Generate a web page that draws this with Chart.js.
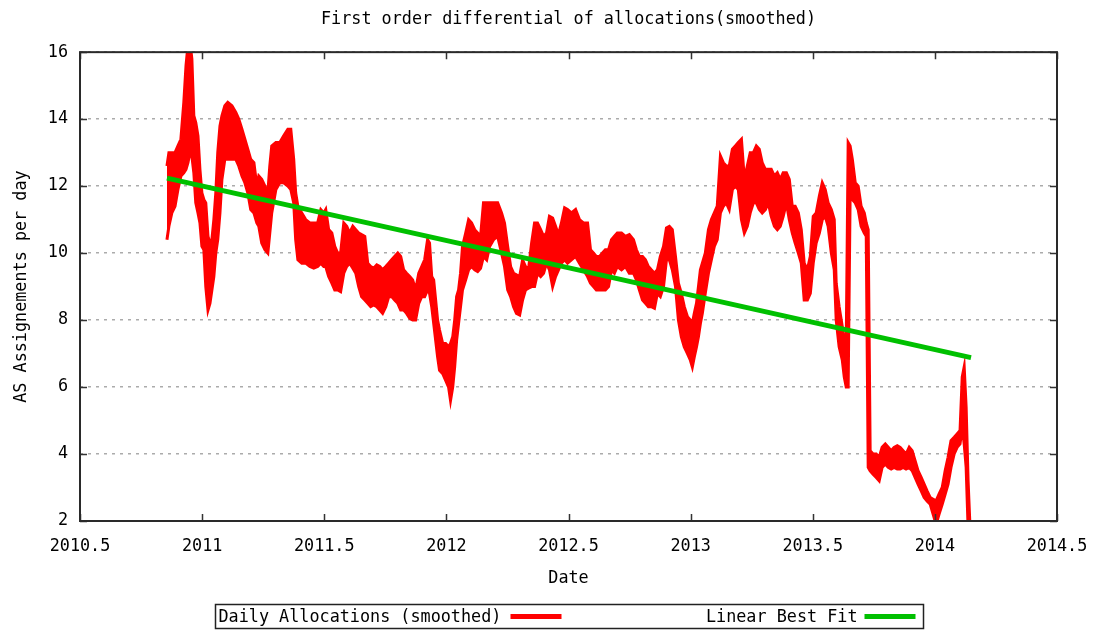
<!DOCTYPE html>
<html>
<head>
<meta charset="utf-8">
<script src="https://cdn.jsdelivr.net/npm/chart.js@4.4.0/dist/chart.umd.min.js"></script>
<style>
html,body{margin:0;padding:0;background:#fff;}
#wrap{width:1093px;height:630px;position:relative;}
</style>
</head>
<body>
<div id="wrap"><canvas id="c"></canvas></div>
<script>
const chartTitle = 'First order differential of allocations(smoothed)';
const xAxisTitle = 'Date';
const yAxisTitle = 'AS Assignements per day';
const seriesNames = ['Daily Allocations (smoothed)', 'Linear Best Fit'];
const xTickLabels = ['2010.5','2011','2011.5','2012','2012.5','2013','2013.5','2014','2014.5'];
const yTickLabels = ['2','4','6','8','10','12','14','16'];

// sample dates (decimal years) of the smoothed daily allocation band
const sampleYears = [
  2010.856,2010.864,2010.876,2010.889,2010.901,2010.913,2010.925,2010.934,2010.942,2010.950,
  2010.958,2010.966,2010.974,2010.983,2010.991,2010.999,2011.007,2011.015,2011.024,2011.032,
  2011.040,2011.048,2011.056,2011.064,2011.073,2011.081,2011.093,2011.105,2011.122,2011.138,
  2011.150,2011.163,2011.175,2011.187,2011.199,2011.212,2011.224,2011.232,2011.244,2011.257,
  2011.269,2011.277,2011.285,2011.302,2011.318,2011.334,2011.351,2011.363,2011.375,2011.383,
  2011.392,2011.408,2011.424,2011.441,2011.457,2011.473,2011.486,2011.498,
  2011.506,2011.518,2011.531,2011.543,2011.555,2011.567,2011.580,2011.592,2011.604,2011.617,
  2011.629,2011.641,2011.653,2011.666,2011.678,2011.690,2011.702,2011.715,2011.727,2011.739,
  2011.752,2011.764,2011.776,2011.788,2011.801,2011.813,2011.825,2011.837,2011.850,2011.862,
  2011.874,2011.887,2011.899,2011.911,2011.923,2011.931,2011.940,2011.948,2011.956,2011.964,
  2011.972,2011.985,2011.997,2012.009,2012.017,2012.026,2012.034,2012.042,2012.050,2012.058,
  2012.066,2012.079,2012.091,2012.103,2012.116,2012.128,2012.140,2012.152,2012.165,
  2012.177,2012.193,2012.210,2012.226,2012.238,2012.251,2012.263,2012.275,2012.287,2012.300,
  2012.312,2012.324,2012.336,2012.349,2012.361,2012.373,2012.386,2012.398,2012.410,2012.422,
  2012.435,2012.447,2012.459,2012.471,2012.484,2012.496,2012.512,2012.529,2012.545,2012.561,
  2012.578,2012.590,2012.602,2012.614,2012.627,2012.639,2012.651,2012.664,2012.676,2012.688,
  2012.700,2012.717,2012.733,2012.749,2012.766,2012.778,2012.790,2012.803,2012.815,2012.827,
  2012.839,2012.852,2012.864,2012.876,2012.889,2012.901,2012.913,2012.925,2012.938,2012.950,
  2012.962,2012.974,2012.987,2012.999,2013.007,2013.015,2013.024,2013.032,2013.040,
  2013.048,2013.060,2013.073,2013.085,2013.097,2013.109,2013.122,2013.134,2013.146,2013.158,
  2013.171,2013.183,2013.195,2013.208,2013.220,2013.232,2013.244,2013.257,2013.269,2013.281,
  2013.293,2013.306,2013.318,2013.330,2013.343,2013.355,2013.367,2013.379,2013.392,2013.404,
  2013.416,2013.428,2013.441,2013.453,2013.465,2013.478,2013.490,2013.502,2013.514,2013.527,
  2013.539,2013.551,2013.563,2013.576,2013.588,2013.596,2013.608,2013.621,2013.629,2013.637,
  2013.645,2013.653,2013.662,2013.674,2013.686,2013.698,2013.711,2013.719,2013.727,2013.735,
  2013.747,2013.760,2013.772,2013.784,2013.797,2013.809,2013.821,2013.833,2013.846,2013.858,
  2013.870,2013.882,2013.895,2013.907,2013.919,2013.931,2013.944,2013.956,2013.968,2013.981,
  2013.993,2014.005,2014.017,2014.030,2014.042,2014.054,2014.066,2014.079,2014.091,2014.103,
  2014.112,2014.120,2014.128,2014.136,2014.144
];

// upper edge of the noisy smoothed series at each sample date
const upperEnvelope = [
  12.6,13.0,13.0,13.0,13.2,13.4,14.5,15.6,16.2,16.3,
  15.8,14.1,13.9,13.5,12.5,11.8,11.6,11.5,10.5,10.3,
  10.4,11.0,11.8,13.0,13.8,14.1,14.4,14.5,14.4,14.2,
  14.0,13.7,13.4,13.1,12.8,12.7,12.0,12.3,12.2,12.0,
  11.8,12.6,13.2,13.3,13.3,13.5,13.7,13.7,12.8,11.8,
  11.4,11.2,11.0,10.9,10.9,10.9,11.3,11.2,
  11.3,10.7,10.6,10.2,10.0,10.0,10.9,10.8,10.6,10.8,
  10.7,10.6,10.55,10.5,9.7,9.6,9.55,9.65,9.6,9.5,
  9.6,9.7,9.8,9.9,10.0,9.9,9.5,9.4,9.3,9.2,
  8.9,9.4,9.6,9.8,10.4,10.3,9.3,9.2,8.6,8.0,
  7.7,7.3,7.3,7.2,7.3,7.5,8.0,8.7,8.9,9.4,
  10.2,10.6,11.0,10.9,10.7,10.6,10.5,11.5,11.5,
  11.5,11.5,11.5,11.2,10.9,10.2,9.6,9.4,9.35,9.3,
  9.8,9.6,9.5,10.3,10.9,10.9,10.7,10.5,10.6,11.1,
  11.05,10.8,10.55,10.9,11.35,11.3,11.2,11.3,11.0,10.9,
  10.9,10.1,10.0,9.9,9.9,10.0,10.1,10.1,10.4,10.5,
  10.6,10.6,10.5,10.55,10.4,10.1,9.9,9.9,9.8,9.6,
  9.5,9.4,9.5,9.9,10.2,10.75,10.8,10.7,9.9,9.1,
  8.8,8.4,8.1,8.0,7.9,8.2,8.5,9.0,9.5,
  9.7,10.0,10.7,11.0,11.2,11.4,12.9,12.7,12.6,12.6,
  13.1,13.2,13.3,13.4,12.2,12.6,13.0,13.0,13.2,13.1,
  12.7,12.5,12.5,12.5,12.3,12.4,12.2,12.4,12.4,12.2,
  11.4,11.4,11.2,10.7,9.7,9.5,9.9,11.1,11.2,11.7,
  12.1,11.9,11.5,11.3,11.0,9.1,8.4,7.8,7.4,7.2,
  13.3,13.2,12.8,12.1,12.0,11.4,11.2,10.9,10.7,4.1,
  4.0,4.0,3.9,4.2,4.3,4.2,4.1,4.2,4.25,4.2,
  4.1,4.0,4.2,4.1,3.8,3.5,3.3,3.1,2.9,2.7,
  2.65,2.6,2.8,3.0,3.5,3.9,4.4,4.5,4.6,4.7,
  6.3,6.6,5.4,3.2,1.8
];

// lower edge of the noisy smoothed series at each sample date
const lowerEnvelope = [
  10.4,10.8,11.2,11.4,11.9,12.3,12.4,12.5,12.7,13.0,
  12.9,12.4,11.5,11.2,10.9,10.2,10.1,9.0,8.3,8.5,
  8.9,9.3,10.0,10.4,11.2,12.2,12.8,12.8,12.8,12.8,
  12.6,12.3,12.1,11.8,11.3,11.2,10.9,10.8,10.3,10.1,
  10.0,10.6,11.2,11.9,12.1,12.1,12.0,11.9,11.5,10.4,
  9.8,9.7,9.7,9.6,9.55,9.6,9.7,9.6,
  9.6,9.3,9.1,8.9,8.9,8.85,9.4,9.6,9.7,9.55,
  9.4,9.0,8.7,8.6,8.5,8.4,8.45,8.4,8.3,8.2,
  8.4,8.7,8.7,8.6,8.5,8.3,8.3,8.2,8.05,8.0,
  8.0,8.5,8.7,8.7,8.9,8.8,8.4,7.9,7.4,6.9,
  6.5,6.4,6.2,6.0,5.6,6.0,6.6,7.4,7.9,8.4,
  8.9,9.2,9.5,9.6,9.5,9.45,9.55,9.9,9.8,
  10.2,10.4,10.5,10.0,9.6,8.9,8.7,8.4,8.2,8.15,
  8.6,8.9,8.95,9.0,9.0,9.4,9.3,9.4,9.7,9.5,
  9.0,9.3,9.5,9.7,9.8,9.7,9.8,9.9,9.7,9.5,
  9.3,9.1,9.0,8.9,8.9,8.9,8.9,9.0,9.5,9.4,
  9.6,9.5,9.6,9.4,9.4,9.2,8.9,8.6,8.5,8.4,
  8.4,8.35,8.8,8.7,9.0,9.8,9.8,9.5,9.0,8.0,
  7.5,7.2,7.0,6.8,6.6,6.9,7.2,7.5,7.9,
  8.2,8.8,9.4,9.8,10.2,10.4,11.2,11.4,11.5,11.3,
  11.9,12.0,11.9,11.0,10.6,10.8,11.2,11.5,11.5,11.3,
  11.2,11.3,11.5,11.1,10.8,10.7,10.8,11.1,11.5,11.0,
  10.6,10.3,10.0,9.7,8.6,8.6,8.8,9.7,10.3,10.6,
  11.0,11.1,10.8,10.0,9.5,8.0,7.2,6.8,6.3,6.0,
  6.0,11.7,11.6,11.5,11.3,10.8,10.6,10.5,3.6,3.5,
  3.4,3.3,3.2,3.6,3.7,3.6,3.55,3.6,3.55,3.55,
  3.6,3.55,3.6,3.5,3.3,3.1,2.9,2.7,2.6,2.5,
  2.2,1.9,2.2,2.5,2.8,3.1,3.6,4.0,4.2,4.3,
  4.8,4.3,3.6,1.8,1.7
];

// linear best fit end points
const fitYears = [2010.856, 2014.148];
const fitValues = [12.24, 6.88];

const RED = '#ff0000';
const GREEN = '#00c000';
const FONT = { family: '"DejaVu Sans Mono", "Liberation Mono", monospace', size: 16.8 };

const upperPts = sampleYears.map((x, i) => ({ x, y: upperEnvelope[i] }));
const lowerPts = sampleYears.map((x, i) => ({ x, y: lowerEnvelope[i] }));
const fitPts = fitYears.map((x, i) => ({ x, y: fitValues[i] }));

const framePlugin = {
  id: 'frame',
  afterDraw(chart) {
    const { ctx, chartArea: a, scales: { x, y } } = chart;
    ctx.save();
    // ticks (inward, mirrored)
    ctx.strokeStyle = '#333';
    ctx.lineWidth = 1.5;
    const L = 7;
    ctx.beginPath();
    x.ticks.forEach(t => {
      const p = Math.round(x.getPixelForValue(t.value)) + 0.5;
      ctx.moveTo(p, a.bottom); ctx.lineTo(p, a.bottom - L);
      ctx.moveTo(p, a.top); ctx.lineTo(p, a.top + L);
    });
    y.ticks.forEach(t => {
      const p = Math.round(y.getPixelForValue(t.value)) + 0.5;
      ctx.moveTo(a.left, p); ctx.lineTo(a.left + L, p);
      ctx.moveTo(a.right, p); ctx.lineTo(a.right - L, p);
    });
    ctx.stroke();
    // border box
    ctx.lineWidth = 2;
    ctx.strokeStyle = '#2a2a2a';
    ctx.strokeRect(a.left, a.top, a.right - a.left, a.bottom - a.top);

    // legend (gnuplot style: text then line sample, boxed)
    const cx = (a.left + a.right) / 2;
    const boxW = 708, boxH = 24;
    const bx = Math.round(cx - boxW / 2) + 0.5;
    const by = chart.height - boxH - 1.5;
    const my = by + boxH / 2;
    ctx.lineWidth = 1.5;
    ctx.strokeStyle = '#222';
    ctx.strokeRect(bx, by, boxW, boxH);
    ctx.font = FONT.size + 'px ' + FONT.family;
    ctx.fillStyle = '#000';
    ctx.textBaseline = 'middle';
    ctx.textAlign = 'left';
    ctx.fillText(seriesNames[0], bx + 3, my + 1);
    ctx.lineWidth = 5;
    ctx.strokeStyle = RED;
    ctx.beginPath(); ctx.moveTo(bx + 295, my); ctx.lineTo(bx + 346, my); ctx.stroke();
    ctx.textAlign = 'right';
    ctx.fillText(seriesNames[1], bx + 642, my + 1);
    ctx.strokeStyle = GREEN;
    ctx.beginPath(); ctx.moveTo(bx + 649, my); ctx.lineTo(bx + 700, my); ctx.stroke();
    ctx.restore();
  }
};

new Chart(document.getElementById('c'), {
  type: 'line',
  data: {
    datasets: [
      {
        label: seriesNames[1],
        data: fitPts,
        borderColor: GREEN,
        borderWidth: 5,
        pointRadius: 0,
        fill: false,
        order: 0,
        clip: 0
      },
      {
        label: seriesNames[0],
        data: upperPts,
        borderColor: RED,
        borderWidth: 3,
        pointRadius: 0,
        fill: false,
        order: 1,
        clip: 0
      },
      {
        label: seriesNames[0] + ' (lower)',
        data: lowerPts,
        borderColor: RED,
        backgroundColor: RED,
        borderWidth: 3,
        pointRadius: 0,
        fill: '-1',
        order: 2,
        clip: 0
      }
    ]
  },
  options: {
    responsive: true,
    maintainAspectRatio: false,
    animation: false,
    devicePixelRatio: 1,
    events: [],
    layout: { padding: { left: 0, right: 36, top: 0, bottom: 39 } },
    elements: { line: { tension: 0, borderJoinStyle: 'miter' } },
    plugins: {
      legend: { display: false },
      tooltip: { enabled: false },
      title: {
        display: true,
        text: chartTitle,
        fullSize: false,
        color: '#000',
        font: { family: FONT.family, size: FONT.size, weight: 'normal' },
        padding: { top: 10, bottom: 22 }
      }
    },
    scales: {
      x: {
        type: 'linear',
        min: 2010.5,
        max: 2014.5,
        ticks: {
          stepSize: 0.5,
          autoSkip: false,
          maxRotation: 0,
          color: '#000',
          padding: 16,
          font: { family: FONT.family, size: FONT.size },
          callback: (v, i) => xTickLabels[i]
        },
        grid: { display: false, drawTicks: false },
        border: { display: false },
        title: {
          display: true,
          text: xAxisTitle,
          color: '#000',
          font: { family: FONT.family, size: FONT.size },
          padding: { top: 0, bottom: 2 }
        },
        afterFit: s => { s.height = 70; s.paddingLeft = 0; s.paddingRight = 0; }
      },
      y: {
        type: 'linear',
        min: 2,
        max: 16,
        ticks: {
          stepSize: 2,
          autoSkip: false,
          color: '#000',
          padding: 12,
          font: { family: FONT.family, size: FONT.size },
          callback: (v, i) => yTickLabels[i]
        },
        grid: { color: '#ababab', lineWidth: 1.5, drawTicks: false },
        border: { display: false, dash: [3, 5] },
        title: {
          display: true,
          text: yAxisTitle,
          color: '#000',
          font: { family: FONT.family, size: FONT.size },
          padding: { top: 12, bottom: 0 }
        },
        afterFit: s => { s.width = 80; s.paddingTop = 0; s.paddingBottom = 0; }
      }
    }
  },
  plugins: [framePlugin]
});
</script>
</body>
</html>
